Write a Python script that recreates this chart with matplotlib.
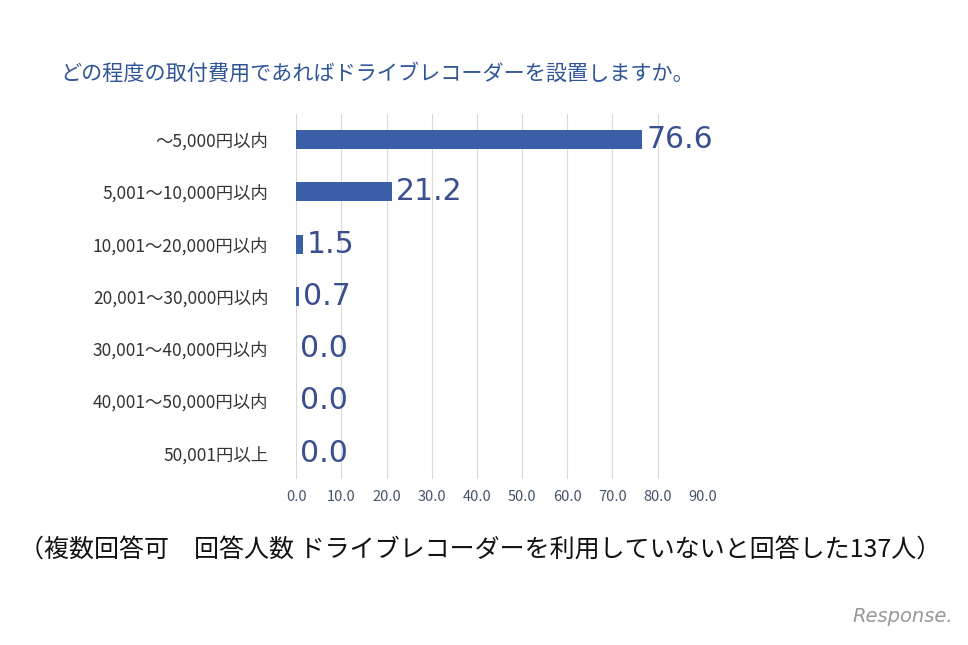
import matplotlib
matplotlib.use("Agg")
import matplotlib.pyplot as plt

plt.rcParams["font.family"] = ["Noto Sans CJK JP", "DejaVu Sans"]

categories = ["～5,000円以内", "5,001～10,000円以内", "10,001～20,000円以内",
              "20,001～30,000円以内", "30,001～40,000円以内", "40,001～50,000円以内",
              "50,001円以上"]
values = [76.6, 21.2, 1.5, 0.7, 0.0, 0.0, 0.0]
ticks = [0, 10, 20, 30, 40, 50, 60, 70, 80, 90]

fig = plt.figure(figsize=(9.68, 6.45), dpi=100)
ax = fig.add_axes([0.306, 0.257, 0.42, 0.567])
color = "#3A5FA8"
y = list(range(len(categories)))
ax.barh(y, values, height=0.36, color=color, zorder=3)
for yi, v in zip(y, values):
    ax.text(v + 0.9, yi, f"{v:.1f}", va="center", ha="left", fontsize=21.5,
            color="#3A4F8F", fontfamily="DejaVu Sans")
ax.set_yticks(y)
ax.set_yticklabels(categories, fontsize=12.5, color="#333333")
ax.set_ylim(6.5, -0.5)
ax.set_xlim(0, 90)
ax.set_xticks(ticks)
ax.set_xticklabels([f"{t:.1f}" for t in ticks], fontsize=10.5, color="#44546A")
ax.grid(axis="x", color="#D9D9D9", linewidth=0.8, zorder=0)
for s in ax.spines.values():
    s.set_visible(False)
ax.tick_params(length=0, pad=8)
ax.tick_params(axis="y", pad=20)

fig.text(0.062, 0.885, "どの程度の取付費用であればドライブレコーダーを設置しますか。",
         fontsize=15.2, color="#2F5597", va="center")
fig.text(0.02, 0.148, "（複数回答可　回答人数 ドライブレコーダーを利用していないと回答した137人）",
         fontsize=18, color="#111111", va="center")
fig.text(0.985, 0.03, "Response.", fontsize=14, color="#999999", style="italic",
         ha="right", va="bottom", fontfamily="DejaVu Sans")
fig.savefig("out.png", dpi=100)
